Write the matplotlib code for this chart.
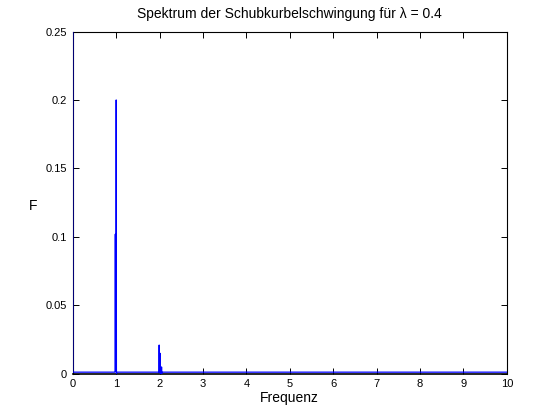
import matplotlib
matplotlib.use("Agg")
import matplotlib.pyplot as plt

# Spectrum data (frequency, amplitude)
freq = [0.000, 0.001, 0.970, 0.975, 0.980, 0.985, 0.995, 1.000, 1.005, 1.010, 1.030,
        1.980, 1.985, 1.990, 1.995, 2.005, 2.010, 2.015, 2.040, 2.045, 2.050, 2.060, 10.000]
amp = [0.600, 0.0012, 0.0012, 0.0015, 0.102, 0.0020, 0.0020, 0.200, 0.0003, 0.0012, 0.0012,
       0.0012, 0.0010, 0.021, 0.0010, 0.0010, 0.015, 0.0003, 0.0003, 0.005, 0.0003, 0.0012, 0.0012]

xticks = [0, 1, 2, 3, 4, 5, 6, 7, 8, 9, 10]
yticks = [0, 0.05, 0.1, 0.15, 0.2, 0.25]
yticklabels = ["0", "0.05", "0.1", "0.15", "0.2", "0.25"]

plt.rcParams['font.family'] = ['Liberation Sans', 'DejaVu Sans']

fig = plt.figure(figsize=(5.6, 4.2), dpi=100)
ax = fig.add_axes([0.13, 0.11, 0.775, 0.815])
ax.plot(freq, amp, color='#0000ff', linewidth=0.9, zorder=3)
ax.set_xlim(0, 10)
ax.set_ylim(0, 0.25)
ax.set_xticks(xticks)
ax.set_xticklabels([str(t) for t in xticks])
ax.set_yticks(yticks)
ax.set_yticklabels(yticklabels)
ax.tick_params(direction='in', top=True, right=True, length=4, width=0.7,
               labelsize=8, pad=4)
for s in ax.spines.values():
    s.set_linewidth(0.8)
ax.spines['bottom'].set_linewidth(1.2)
ax.set_xlabel("Frequenz", fontsize=10, labelpad=1)
ax.set_ylabel("F", fontsize=10, rotation=0, va='center', ha='center')
ax.yaxis.set_label_coords(-0.092, 0.49)
ax.set_title("Spektrum der Schubkurbelschwingung für λ = 0.4", fontsize=10, pad=10)
fig.savefig("out.png", dpi=100)
